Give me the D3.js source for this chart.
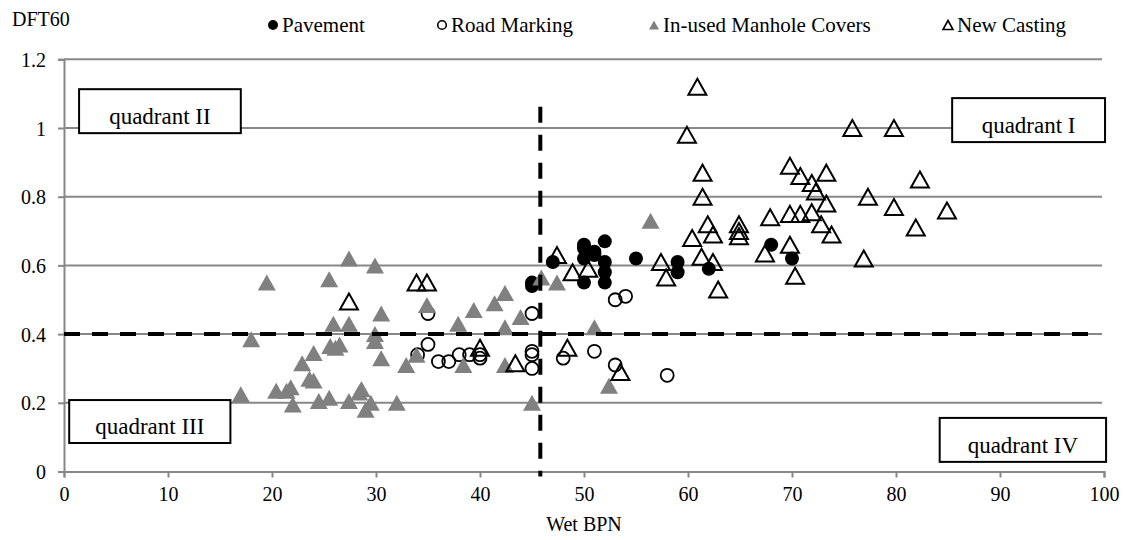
<!DOCTYPE html>
<html>
<head>
<meta charset="utf-8">
<script src="https://d3js.org/d3.v7.min.js"></script>
<style>
  body { margin: 0; background: #fff; }
  text { font-family: "Liberation Serif", "Times New Roman", serif; fill: #000; }
</style>
</head>
<body>
<script>
// data: [Wet BPN, DFT60]
var pavement = [
  [45,0.55],[45,0.54],[47,0.61],[50,0.66],[50,0.65],[50,0.62],[50,0.55],[51,0.63],[51,0.64],
  [52,0.67],[52,0.61],[52,0.58],[52,0.55],[55,0.62],[59,0.61],[59,0.58],[62,0.59],[68,0.66],[70,0.62]
];
var roadMarking = [
  [34,0.34],[35,0.46],[35,0.37],[36,0.32],[37,0.32],[38,0.34],[39,0.34],[40,0.34],[40,0.33],
  [45,0.46],[45,0.35],[45,0.34],[45,0.30],[48,0.33],[51,0.35],[53,0.50],[54,0.51],[53,0.31],[58,0.28]
];
var manholeCovers = [
  [17,0.225],[18,0.385],[19.5,0.55],[20.4,0.235],[21.4,0.235],[21.8,0.245],[22,0.195],[22.9,0.315],
  [23.6,0.27],[24,0.265],[24,0.345],[24.5,0.205],[25.5,0.215],[25.5,0.56],[25.9,0.43],[25.6,0.365],
  [26.1,0.36],[26.5,0.37],[27.4,0.43],[27.4,0.62],[27.4,0.205],[28.4,0.23],[28.6,0.24],[29,0.18],
  [29.5,0.2],[29.9,0.6],[29.9,0.4],[29.9,0.38],[30.5,0.46],[30.5,0.33],[32,0.2],[32.9,0.31],
  [33.9,0.34],[34.9,0.485],[37.9,0.43],[38.4,0.31],[39.4,0.47],[41.4,0.49],[42.4,0.52],[42.4,0.42],
  [42.4,0.31],[43.9,0.45],[45,0.2],[45.9,0.565],[47.4,0.55],[51,0.42],[52.4,0.25],[56.4,0.73]
];
var newCasting = [
  [27.4,0.495],[33.9,0.55],[34.9,0.55],[40,0.36],[43.4,0.315],[47.4,0.63],[48.4,0.36],[48.9,0.58],
  [50.4,0.59],[53.5,0.29],[57.4,0.61],[57.9,0.565],[59.9,0.98],[60.4,0.68],[60.9,1.12],[61.3,0.625],
  [61.4,0.87],[61.4,0.80],[61.9,0.72],[62.4,0.69],[62.4,0.61],[62.9,0.53],[64.9,0.72],[64.9,0.70],
  [64.9,0.685],[67.4,0.635],[67.9,0.74],[69.8,0.89],[69.8,0.75],[69.8,0.66],[70.3,0.57],[70.8,0.86],
  [70.8,0.75],[71.9,0.84],[71.9,0.755],[72.3,0.815],[72.8,0.72],[73.3,0.87],[73.3,0.78],[73.8,0.69],
  [75.8,1.0],[76.9,0.62],[77.3,0.80],[79.8,1.0],[79.8,0.77],[81.9,0.71],[82.3,0.85],[84.9,0.76]
];
var seriesNames = ["Pavement", "Road Marking", "In-used Manhole Covers", "New Casting"];
var xTicks = [0,10,20,30,40,50,60,70,80,90,100];
var yTicks = [0,0.2,0.4,0.6,0.8,1,1.2];
var xSplit = 45.8, ySplit = 0.4;   // the dashed threshold lines
var quadrants = [
  {label: "quadrant II",  x0: 1.45, x1: 17,    y0: 1.113, y1: 0.985},
  {label: "quadrant I",   x0: 85.4, x1: 100.1, y0: 1.087, y1: 0.959},
  {label: "quadrant III", x0: 0.5,  x1: 16,    y0: 0.208, y1: 0.083},
  {label: "quadrant IV",  x0: 84.2, x1: 100.2, y0: 0.156, y1: 0.028}
];

var W = 1123, H = 540;
var plotL = 64, plotR = 1104, plotT = 59.3, plotB = 471.5;
var grid = "#878787";

var svg = d3.select("body").append("svg")
  .attr("width", W)
  .attr("height", H);

var x = d3.scaleLinear().domain([0,100]).range([plotL,plotR]);
var y = d3.scaleLinear().domain([0,1.2]).range([plotB,plotT]);

// horizontal gridlines
svg.selectAll(".grid")
  .data(yTicks.slice(1))
  .enter().append("line")
  .attr("x1", plotL).attr("x2", plotR - 2)
  .attr("y1", function(d){ return y(d); })
  .attr("y2", function(d){ return y(d); })
  .attr("stroke", grid).attr("stroke-width", 2);

// axes
var yAxis = svg.append("g")
  .attr("transform", "translate(" + plotL + ",0)")
  .call(d3.axisLeft(y).tickValues(yTicks).tickSize(6).tickPadding(12)
        .tickFormat(function(d){ return d3.format("~g")(d); }));
var xAxis = svg.append("g")
  .attr("transform", "translate(0," + plotB + ")")
  .call(d3.axisBottom(x).tickValues(xTicks).tickSize(6).tickPadding(9));
[xAxis, yAxis].forEach(function(g){
  g.select(".domain").attr("stroke", grid).attr("stroke-width", 2);
  g.selectAll(".tick line").attr("stroke", grid).attr("stroke-width", 2);
  g.selectAll("text").attr("font-size", 20)
    .attr("font-family", "Liberation Serif, Times New Roman, serif").attr("fill", "#000");
});
yAxis.selectAll("text").attr("dy", "0.35em");

// markers
function tri(w, h) {
  return "M0," + (-h/2) + "L" + (w/2) + "," + (h/2) + "L" + (-w/2) + "," + (h/2) + "Z";
}
function pos(d) { return "translate(" + x(d[0]) + "," + y(d[1]) + ")"; }

svg.append("g").selectAll("circle")
  .data(pavement).enter().append("circle")
  .attr("cx", function(d){ return x(d[0]); })
  .attr("cy", function(d){ return y(d[1]); })
  .attr("r", 7).attr("fill", "#000");

svg.append("g").selectAll("circle")
  .data(roadMarking).enter().append("circle")
  .attr("cx", function(d){ return x(d[0]); })
  .attr("cy", function(d){ return y(d[1]); })
  .attr("r", 6.5).attr("fill", "none")
  .attr("stroke", "#000").attr("stroke-width", 1.8);

svg.append("g").selectAll("path")
  .data(manholeCovers).enter().append("path")
  .attr("d", tri(18, 16)).attr("transform", pos)
  .attr("fill", "#808080");

svg.append("g").selectAll("path")
  .data(newCasting).enter().append("path")
  .attr("d", tri(18, 16)).attr("transform", pos)
  .attr("fill", "none").attr("stroke", "#000").attr("stroke-width", 2)
  .attr("stroke-linejoin", "miter");

// threshold dashed lines
svg.append("line")
  .attr("x1", x(0)).attr("x2", x(99.5))
  .attr("y1", y(ySplit)).attr("y2", y(ySplit))
  .attr("stroke", "#000").attr("stroke-width", 4).attr("stroke-dasharray", "16,12");
svg.append("line")
  .attr("x1", x(xSplit)).attr("x2", x(xSplit))
  .attr("y1", y(1.062)).attr("y2", plotB + 5)
  .attr("stroke", "#000").attr("stroke-width", 4).attr("stroke-dasharray", "16,12");

// quadrant boxes
var q = svg.selectAll(".quad").data(quadrants).enter().append("g");
q.append("rect")
  .attr("x", function(d){ return x(d.x0); })
  .attr("y", function(d){ return y(d.y0); })
  .attr("width", function(d){ return x(d.x1) - x(d.x0); })
  .attr("height", function(d){ return y(d.y1) - y(d.y0); })
  .attr("fill", "#fff").attr("stroke", "#000").attr("stroke-width", 2);
q.append("text")
  .attr("x", function(d){ return (x(d.x0) + x(d.x1)) / 2; })
  .attr("y", function(d){ return y(d.y1) - 9; })
  .attr("text-anchor", "middle").attr("font-size", 23)
  .text(function(d){ return d.label; });

// legend
var legX = [273, 442, 654, 948];
var leg = svg.append("g");
leg.append("circle").attr("cx", legX[0]).attr("cy", 25).attr("r", 5).attr("fill", "#000");
leg.append("circle").attr("cx", legX[1]).attr("cy", 25).attr("r", 4.3)
  .attr("fill", "none").attr("stroke", "#000").attr("stroke-width", 1.6);
leg.append("path").attr("d", tri(10, 9)).attr("transform", "translate(" + legX[2] + ",25)")
  .attr("fill", "#808080");
leg.append("path").attr("d", tri(10, 9)).attr("transform", "translate(" + legX[3] + ",25)")
  .attr("fill", "none").attr("stroke", "#000").attr("stroke-width", 1.6);
leg.selectAll("text").data(seriesNames).enter().append("text")
  .attr("x", function(d, i){ return legX[i] + 9; })
  .attr("y", 32).attr("font-size", 21)
  .text(function(d){ return d; });

// axis titles
svg.append("text").attr("x", 12).attr("y", 26).attr("font-size", 20).text("DFT60");
svg.append("text").attr("x", (plotL + plotR) / 2).attr("y", 531)
  .attr("text-anchor", "middle").attr("font-size", 20).text("Wet BPN");
</script>
</body>
</html>
